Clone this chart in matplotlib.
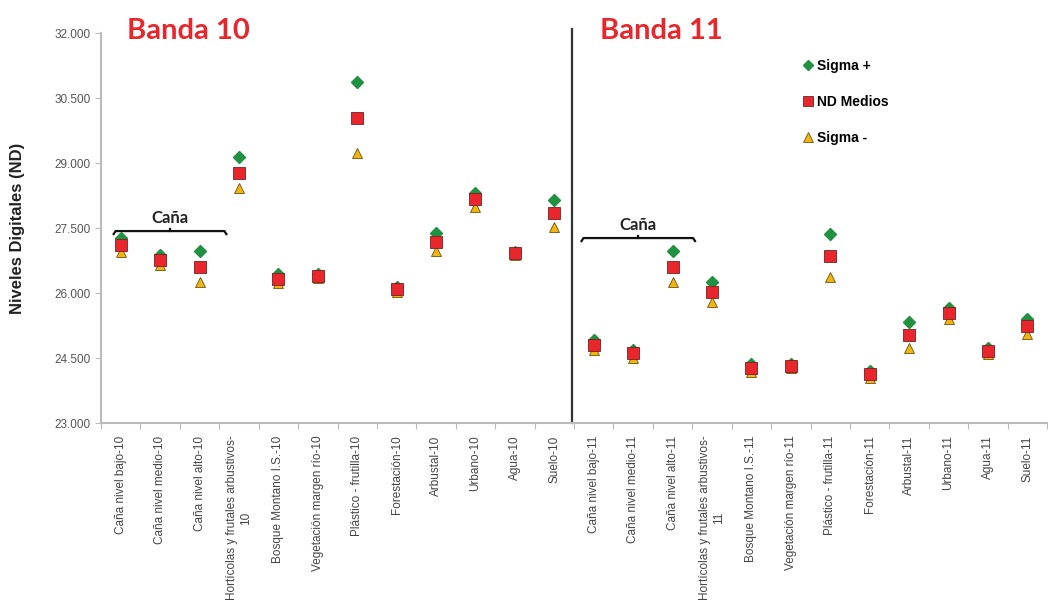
import matplotlib
matplotlib.use("Agg")
import matplotlib.pyplot as plt
from matplotlib.lines import Line2D

# categories (band 10 then band 11)
clases = ["Caña nivel bajo", "Caña nivel medio", "Caña nivel alto",
          "Hortícolas y frutales arbustivos", "Bosque Montano I.S.",
          "Vegetación margen río", "Plástico - frutilla", "Forestación",
          "Arbustal", "Urbano", "Agua", "Suelo"]
labels = []
for banda in ["10", "11"]:
    for c in clases:
        if c.startswith("Hortícolas"):
            labels.append(c + "-\n" + banda)
        else:
            labels.append(c + "-" + banda)

sigma_mas = [27263, 26870, 26963, 29147, 26431, 26430, 30870, 26146, 27378, 28316, 26940, 28147,
             24916, 24685, 26970, 26247, 24354, 24362, 27354, 24208, 25331, 25647, 24739, 25393]
nd_medios = [27108, 26762, 26608, 28777, 26323, 26393, 30039, 26085, 27185, 28162, 26916, 27855,
             24800, 24608, 26608, 26016, 24262, 24316, 26862, 24131, 25039, 25531, 24662, 25239]
sigma_menos = [26939, 26647, 26262, 28416, 26224, 26354, 29224, 26031, 26977, 27978, 26877, 27531,
               24685, 24508, 26262, 25785, 24170, 24277, 26377, 24046, 24739, 25393, 24593, 25054]

yticks = [23000, 24500, 26000, 27500, 29000, 30500, 32000]

verde = "#1f9140"
rojo = "#e8262b"
amarillo = "#f2b50f"

fig = plt.figure(figsize=(10.48, 6.07), dpi=100)
ax = fig.add_axes([0.0964, 0.303, 0.9027, 0.6425])

x = list(range(len(labels)))
ax.plot(x, sigma_mas, "D", color=verde, ms=6, mec=verde, zorder=3)
ax.plot(x, nd_medios, "s", color=rojo, ms=8.5, mec="#7a2020", mew=0.6, zorder=4)
ax.plot(x, sigma_menos, "^", color=amarillo, ms=7.5, mec="#6b5210", mew=0.6, zorder=2)

ax.set_xlim(-0.5, 23.4)
ax.set_ylim(23000, 32000)
ax.set_yticks(yticks)
ax.set_yticklabels([f"{v:,}".replace(",", ".") for v in yticks],
                   fontsize=8.5, color="#555555", family="Liberation Sans")

# ticks between categories, labels centred
ax.set_xticks([i + 0.5 for i in range(-1, 24)])
ax.set_xticklabels([])
ax.set_xticks(x, minor=True)
ax.set_xticklabels(labels, minor=True, rotation=90, ha="center", va="top",
                   fontsize=8.5, color="#444444", family="Liberation Sans",
                   multialignment="center")
ax.tick_params(axis="x", which="minor", length=0, pad=9)
ax.tick_params(axis="x", which="major", length=4, color="#bbbbbb")
ax.tick_params(axis="y", length=4, color="#bbbbbb")

for s in ["top", "right"]:
    ax.spines[s].set_visible(False)
ax.spines["left"].set_color("#bbbbbb")
ax.spines["bottom"].set_color("#bbbbbb")
ax.spines["left"].set_linewidth(1.5)
ax.spines["bottom"].set_linewidth(1.5)

fig.text(18 / 1048, 1 - 228 / 607, "Niveles Digitales (ND)", rotation=90,
         fontsize=12, fontweight="bold", family="Liberation Sans",
         color="#222222", ha="center", va="center")

# divider between bands
ax.plot([11.45, 11.45], [23000, 32100], color="#333333", lw=1.6, clip_on=False)

# band titles
ax.text(0.15, 32050, "Banda 10", color=rojo, fontsize=21, fontweight="bold",
        family="Lato", va="center", ha="left")
ax.text(12.15, 32050, "Banda 11", color=rojo, fontsize=21, fontweight="bold",
        family="Lato", va="center", ha="left")

# "Caña" brackets
def llave(x0, x1, y, ytxt):
    d = 70
    ax.plot([x0, x0 + 0.05, x1 - 0.05, x1], [y - d, y, y, y - d], color="#111111", lw=1.6)
    xm = (x0 + x1) / 2
    ax.plot([xm, xm], [y, y + 40], color="#111111", lw=1.6)
    ax.text(xm, ytxt, "Caña", fontsize=12, fontweight="bold", family="Lato",
            ha="center", va="center", color="#222222")

llave(-0.18, 2.68, 27431, 27740)
llave(11.69, 14.57, 27270, 27570)

# legend
handles = [Line2D([], [], ls="", marker="D", color=verde, ms=5),
           Line2D([], [], ls="", marker="s", color=rojo, mec="#7a2020", mew=0.6, ms=7.5),
           Line2D([], [], ls="", marker="^", color=amarillo, mec="#6b5210", mew=0.6, ms=6.5)]
leg = ax.legend(handles, ["Sigma +", "ND Medios", "Sigma -"], loc="upper left",
                bbox_to_anchor=(0.727, 0.966), frameon=False, labelspacing=1.6,
                handletextpad=0.1, handlelength=1.0,
                prop={"family": "Liberation Sans", "weight": "bold", "size": 10})

fig.savefig("out.png", dpi=100)
